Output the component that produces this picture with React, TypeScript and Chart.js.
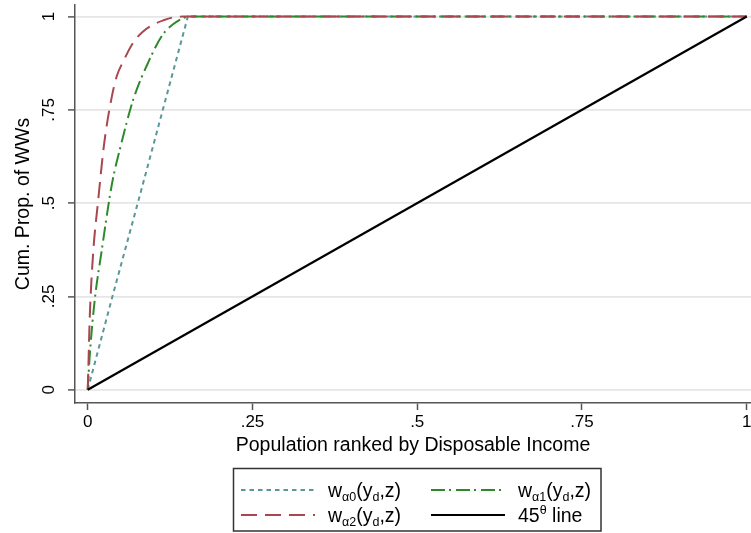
import React, { useEffect, useRef } from 'react';
import { Chart, registerables } from 'chart.js';

Chart.register(...registerables);

const FONT = "'Liberation Sans', Arial, Helvetica, sans-serif";

// ---- data ----
const xTickValues = [0, 0.25, 0.5, 0.75, 1];
const xTickLabels = ['0', '.25', '.5', '.75', '1'];
const yTickValues = [0, 0.25, 0.5, 0.75, 1];
const yTickLabels = ['0', '.25', '.5', '.75', '1'];

const xTitle = 'Population ranked by Disposable Income';
const yTitle = 'Cum. Prop. of WWs';

// w_alpha0 (teal, short dash)
const alpha0X = [0, 0.036, 0.079, 0.12, 0.152, 1];
const alpha0Y = [0, 0.24, 0.52, 0.79, 1, 1];

// w_alpha1 (green, dash-dot)
const alpha1X = [0, 0.003, 0.0106, 0.021, 0.031, 0.038, 0.0486, 0.069, 0.0915, 0.114, 0.13, 0.145, 0.155, 1];
const alpha1Y = [0, 0.09, 0.24, 0.37, 0.49, 0.563, 0.643, 0.777, 0.876, 0.952, 0.98, 0.996, 1, 1];

// w_alpha2 (red, long dash)
const alpha2X = [0, 0.001, 0.003, 0.008, 0.016, 0.025, 0.036, 0.044, 0.054, 0.069, 0.084, 0.099, 0.115, 0.13, 0.145, 1];
const alpha2Y = [0, 0.06, 0.19, 0.36, 0.51, 0.66, 0.78, 0.84, 0.88, 0.93, 0.96, 0.978, 0.99, 0.998, 1, 1];

// 45 degree line
const diagX = [0, 1];
const diagY = [0, 1];

type Run = [string, 'n' | 'sub' | 'sup'];
const legendAlpha0: Run[] = [['w', 'n'], ['\u03B10', 'sub'], ['(y', 'n'], ['d', 'sub'], [',z)', 'n']];
const legendAlpha1: Run[] = [['w', 'n'], ['\u03B11', 'sub'], ['(y', 'n'], ['d', 'sub'], [',z)', 'n']];
const legendAlpha2: Run[] = [['w', 'n'], ['\u03B12', 'sub'], ['(y', 'n'], ['d', 'sub'], [',z)', 'n']];
const legendDiag: Run[] = [['45', 'n'], ['\u03B8', 'sup'], [' line', 'n']];

// ---- styles ----
const TEAL = '#5b9698';
const GREEN = '#2c8a2c';
const RED = '#a8474f';
const BLACK = '#000000';
const DASH_TEAL = [4.5, 4];
const DASH_GREEN = [14, 4, 2, 5];
const DASH_RED = [16, 8];

const zip = (xs: number[], ys: number[]) => xs.map((x, i) => ({ x, y: ys[i] }));

const drawRuns = (ctx: CanvasRenderingContext2D, runs: Run[], x: number, y: number) => {
  let cx = x;
  for (const [t, kind] of runs) {
    ctx.font = kind === 'n' ? `19.5px ${FONT}` : `12.5px ${FONT}`;
    const dy = kind === 'sub' ? 4 : kind === 'sup' ? -8 : 0;
    ctx.fillText(t, cx, y + dy);
    cx += ctx.measureText(t).width;
  }
};

const yTickPlugin = {
  id: 'yTickLabels',
  afterDraw(chart: any) {
    const ctx: CanvasRenderingContext2D = chart.ctx;
    const ys = chart.scales.y;
    ctx.save();
    ctx.fillStyle = '#000';
    ctx.font = `17px ${FONT}`;
    ctx.textAlign = 'center';
    ctx.textBaseline = 'middle';
    yTickValues.forEach((v, i) => {
      const py = ys.getPixelForValue(v);
      ctx.save();
      ctx.translate(49, py);
      ctx.rotate(-Math.PI / 2);
      ctx.fillText(yTickLabels[i], 0, 0);
      ctx.restore();
    });
    ctx.restore();
  },
};

const legendPlugin = {
  id: 'customLegend',
  afterDraw(chart: any) {
    const ctx: CanvasRenderingContext2D = chart.ctx;
    ctx.save();
    // box
    ctx.strokeStyle = '#333';
    ctx.lineWidth = 1.5;
    ctx.setLineDash([]);
    ctx.strokeRect(233.5, 468.5, 367.5, 62.5);

    const entries: { color: string; dash: number[]; width: number; runs: Run[]; x: number; y: number }[] = [
      { color: TEAL, dash: DASH_TEAL, width: 2, runs: legendAlpha0, x: 241, y: 490 },
      { color: GREEN, dash: DASH_GREEN, width: 2, runs: legendAlpha1, x: 431, y: 490 },
      { color: RED, dash: DASH_RED, width: 2, runs: legendAlpha2, x: 241, y: 515 },
      { color: BLACK, dash: [], width: 2.2, runs: legendDiag, x: 431, y: 515 },
    ];
    for (const e of entries) {
      ctx.strokeStyle = e.color;
      ctx.lineWidth = e.width;
      ctx.setLineDash(e.dash);
      ctx.beginPath();
      ctx.moveTo(e.x, e.y);
      ctx.lineTo(e.x + 74, e.y);
      ctx.stroke();
      ctx.setLineDash([]);
      ctx.fillStyle = '#000';
      ctx.textBaseline = 'alphabetic';
      ctx.textAlign = 'left';
      drawRuns(ctx, e.runs, e.x + 87, e.y + 7);
    }
    ctx.restore();
  },
};

export default function App() {
  const ref = useRef<HTMLCanvasElement | null>(null);

  useEffect(() => {
    if (!ref.current) return;
    Chart.defaults.font.family = FONT;
    const chart = new Chart(ref.current, {
      type: 'line',
      data: {
        datasets: [
          {
            label: '45 line',
            data: zip(diagX, diagY),
            borderColor: BLACK,
            borderWidth: 2.2,
            pointRadius: 0,
            fill: false,
          },
          {
            label: 'w_a2',
            data: zip(alpha2X, alpha2Y),
            borderColor: RED,
            borderWidth: 2,
            borderDash: DASH_RED,
            pointRadius: 0,
            cubicInterpolationMode: 'monotone',
            fill: false,
          },
          {
            label: 'w_a1',
            data: zip(alpha1X, alpha1Y),
            borderColor: GREEN,
            borderWidth: 2,
            borderDash: DASH_GREEN,
            pointRadius: 0,
            cubicInterpolationMode: 'monotone',
            fill: false,
          },
          {
            label: 'w_a0',
            data: zip(alpha0X, alpha0Y),
            borderColor: TEAL,
            borderWidth: 2,
            borderDash: DASH_TEAL,
            pointRadius: 0,
            fill: false,
          },
        ],
      },
      options: {
        animation: false,
        responsive: false,
        events: [],
        layout: { padding: { top: 5, left: 0, right: 0, bottom: 0 } },
        plugins: {
          legend: { display: false },
          tooltip: { enabled: false },
        },
        scales: {
          x: {
            type: 'linear',
            min: -0.0193,
            max: 1.0065,
            afterBuildTicks: (s: any) => {
              s.ticks = xTickValues.map((v) => ({ value: v }));
            },
            afterFit: (s: any) => {
              s.height = 130;
              s.paddingLeft = 0;
              s.paddingRight = 0;
            },
            ticks: {
              autoSkip: false,
              maxRotation: 0,
              minRotation: 0,
              color: '#000',
              font: { size: 17, family: FONT },
              padding: 2,
              callback: (v: any) => xTickLabels[xTickValues.indexOf(Number(v))] ?? '',
            },
            grid: {
              drawOnChartArea: false,
              drawTicks: true,
              tickLength: 7,
              tickColor: '#555',
              tickWidth: 1.5,
            },
            border: { display: true, color: '#555', width: 1.5 },
            title: {
              display: true,
              text: xTitle,
              color: '#000',
              font: { size: 19.5, family: FONT },
              padding: { top: 0, bottom: 76 },
            },
          },
          y: {
            type: 'linear',
            min: -0.0357,
            max: 1.031,
            afterBuildTicks: (s: any) => {
              s.ticks = yTickValues.map((v) => ({ value: v }));
            },
            afterFit: (s: any) => {
              s.width = 75;
              s.paddingTop = 0;
              s.paddingBottom = 0;
            },
            ticks: { display: false },
            grid: {
              drawOnChartArea: true,
              color: '#e6e6e6',
              lineWidth: 1.8,
              drawTicks: true,
              tickLength: 7,
              tickColor: '#555',
              tickWidth: 1.5,
            },
            border: { display: true, color: '#555', width: 1.5 },
            title: {
              display: true,
              text: yTitle,
              color: '#000',
              font: { size: 19.5, family: FONT },
              padding: { top: 12, bottom: 0 },
            },
          },
        },
      } as any,
      plugins: [yTickPlugin, legendPlugin],
    });
    return () => chart.destroy();
  }, []);

  return (
    <div style={{ position: 'absolute', left: 0, top: 0, width: 751, height: 533, background: '#fff' }}>
      <canvas ref={ref} width={751} height={533} style={{ width: 751, height: 533, display: 'block' }} />
    </div>
  );
}
